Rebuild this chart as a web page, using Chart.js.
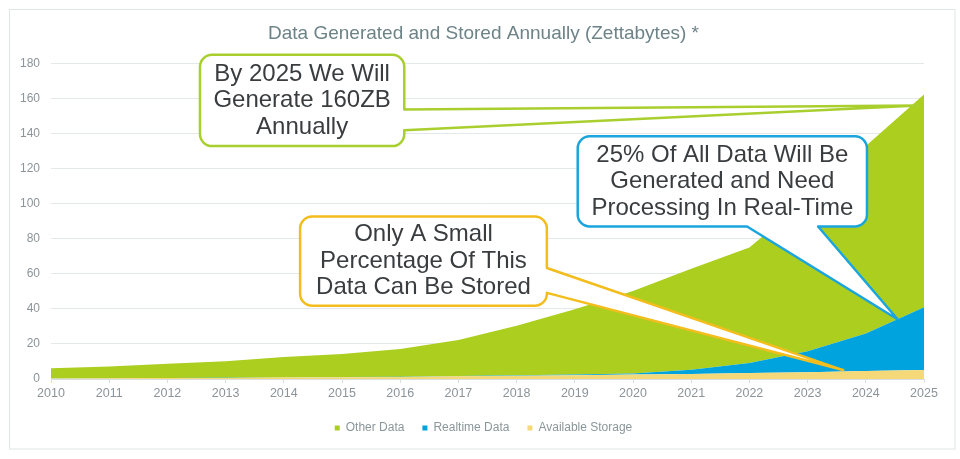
<!DOCTYPE html>
<html>
<head>
<meta charset="utf-8">
<script src="https://cdn.jsdelivr.net/npm/chart.js@4/dist/chart.umd.min.js"></script>
<style>
  html, body { margin: 0; padding: 0; background: #fff; }
  #output { display: block; }
</style>
</head>
<body>
<canvas id="output" width="960" height="459"></canvas>
<script>
// Years on the x axis
const years = ['2010', '2011', '2012', '2013', '2014', '2015', '2016', '2017',
               '2018', '2019', '2020', '2021', '2022', '2023', '2024', '2025'];

// Zettabytes per year (stacked: storage at the bottom, then realtime, then other)
const storageData  = [0.3, 0.4, 0.5, 0.6, 0.8, 1.0, 1.2, 1.5, 1.8, 2.1, 2.5, 2.9, 3.4, 3.9, 4.5, 5.2];
const realtimeData = [0.1, 0.1, 0.1, 0.1, 0.1, 0.1, 0.1, 0.2, 0.3, 0.5, 0.7, 2.4, 5.8, 11.9, 21.5, 35.8];
const otherData    = [5.8, 6.7, 8.1, 9.5, 11.6, 13.2, 15.9, 20.6, 28.3, 37.2, 47.0, 57.7, 65.9, 87.2, 107, 121.4];

// Callout texts
const greenNote  = ['By 2025 We Will', 'Generate 160ZB', 'Annually'];
const blueNote   = ['25% Of All Data Will Be', 'Generated and Need', 'Processing In Real-Time'];
const yellowNote = ['Only A Small', 'Percentage Of This', 'Data Can Be Stored'];

// callout boxes and pointer tips, in axis units (x = year index, y = ZB)
const callouts = [
  { lines: greenNote, color: '#A9CF2E',
    box: { x0: 2.56, x1: 6.07, y0: 185.1, y1: 133.0 },
    side: 'right', at: [153.9, 142.0], tip: [14.9, 156.2] },
  { lines: blueNote, color: '#1BA5DD',
    box: { x0: 9.05, x1: 14.02, y0: 138.6, y1: 87.1 },
    side: 'bottom', at: [11.96, 13.18], tip: [14.55, 34.0] },
  { lines: yellowNote, color: '#F2BD1D',
    box: { x0: 4.28, x1: 8.52, y0: 92.8, y1: 41.9 },
    side: 'right', at: [63.4, 49.2], tip: [13.61, 5.1] }
];

const frame = {
  id: 'frame',
  beforeDraw(chart) {
    const ctx = chart.ctx;
    ctx.save();
    ctx.fillStyle = '#ffffff';
    ctx.fillRect(0, 0, chart.width, chart.height);
    ctx.strokeStyle = '#dfe4e5';
    ctx.lineWidth = 1;
    ctx.strokeRect(9.5, 9.5, 945.5, 439.5);
    ctx.restore();
  }
};

function calloutPath(ctx, L, T, R, B, rad, c, sx, sy) {
  ctx.beginPath();
  ctx.moveTo(L + rad, T);
  ctx.lineTo(R - rad, T);
  ctx.arcTo(R, T, R, T + rad, rad);
  if (c.side === 'right') {
    ctx.lineTo(R, sy(c.at[0]));
    ctx.lineTo(sx(c.tip[0]), sy(c.tip[1]));
    ctx.lineTo(R, sy(c.at[1]));
  }
  ctx.lineTo(R, B - rad);
  ctx.arcTo(R, B, R - rad, B, rad);
  if (c.side === 'bottom') {
    ctx.lineTo(sx(c.at[1]), B);
    ctx.lineTo(sx(c.tip[0]), sy(c.tip[1]));
    ctx.lineTo(sx(c.at[0]), B);
  }
  ctx.lineTo(L + rad, B);
  ctx.arcTo(L, B, L, B - rad, rad);
  ctx.lineTo(L, T + rad);
  ctx.arcTo(L, T, L + rad, T, rad);
  ctx.closePath();
}

const calloutPlugin = {
  id: 'callouts',
  afterDatasetsDraw(chart) {
    const ctx = chart.ctx;
    const sx = v => chart.scales.x.getPixelForValue(v);
    const sy = v => chart.scales.y.getPixelForValue(v);
    callouts.forEach(c => {
      const L = sx(c.box.x0), R = sx(c.box.x1);
      const T = sy(c.box.y0), B = sy(c.box.y1);
      ctx.save();
      calloutPath(ctx, L, T, R, B, 12, c, sx, sy);
      ctx.fillStyle = '#ffffff';
      ctx.fill();
      ctx.lineWidth = 2.5;
      ctx.lineJoin = 'round';
      ctx.strokeStyle = c.color;
      ctx.stroke();
      ctx.fillStyle = '#3a3d3f';
      ctx.font = '24px "Liberation Sans", Arial, sans-serif';
      ctx.textAlign = 'center';
      ctx.textBaseline = 'middle';
      const lh = 26.5;
      const cx = (L + R) / 2, cy = (T + B) / 2;
      c.lines.forEach((t, k) => {
        ctx.fillText(t, cx, cy + (k - (c.lines.length - 1) / 2) * lh);
      });
      ctx.restore();
    });
  }
};

function createChart() {
  const ctx = document.getElementById('output').getContext('2d');

  new Chart(ctx, {
    type: 'line',
    data: {
      labels: years,
      datasets: [
        {
          label: 'Available Storage',
          data: storageData,
          backgroundColor: '#F5D978',
          borderColor: '#F5D978',
          borderWidth: 0,
          pointRadius: 0,
          fill: 'origin'
        },
        {
          label: 'Realtime Data',
          data: realtimeData,
          backgroundColor: '#00A3DE',
          borderColor: '#00A3DE',
          borderWidth: 0,
          pointRadius: 0,
          fill: '-1'
        },
        {
          label: 'Other Data',
          data: otherData,
          backgroundColor: '#ACCF1F',
          borderColor: '#ACCF1F',
          borderWidth: 0,
          pointRadius: 0,
          fill: '-1'
        }
      ]
    },
    options: {
      responsive: false,
      animation: false,
      layout: { padding: { left: 10, right: 3, top: 0, bottom: 15 } },
      elements: { line: { tension: 0 } },
      plugins: {
        tooltip: { enabled: false },
        title: {
          display: true,
          text: 'Data Generated and Stored Annually (Zettabytes) *',
          color: '#6d8387',
          font: { family: '"Liberation Sans", Arial, sans-serif', size: 19, weight: 'normal' },
          padding: { top: 22, bottom: 19 }
        },
        legend: {
          position: 'bottom',
          reverse: true,
          labels: {
            color: '#8b969a',
            font: { family: '"Liberation Sans", Arial, sans-serif', size: 12 },
            boxWidth: 5,
            boxHeight: 5,
            padding: 18
          }
        }
      },
      scales: {
        x: {
          grid: { drawOnChartArea: false, color: '#d9dfe1', tickLength: 4 },
          border: { display: true, color: '#d9dfe1' },
          ticks: {
            color: '#8c9499',
            font: { family: '"Liberation Sans", Arial, sans-serif', size: 12.5 },
            maxRotation: 0,
            autoSkip: false,
            padding: 3
          }
        },
        y: {
          stacked: true,
          min: 0,
          max: 180,
          afterFit: scale => { scale.width = 41; },
          grid: { color: '#e3e8ea', drawTicks: false },
          border: { display: false },
          ticks: {
            stepSize: 20,
            padding: 11,
            color: '#8c9499',
            font: { family: '"Liberation Sans", Arial, sans-serif', size: 12 }
          }
        },
        // empty right-hand spacer so the title and legend centre like the original
        y2: {
          position: 'right',
          min: 0,
          max: 180,
          afterFit: scale => { scale.width = 33; },
          grid: { display: false },
          border: { display: false },
          ticks: { display: false }
        }
      }
    },
    plugins: [frame, calloutPlugin]
  });
}

createChart();
</script>
</body>
</html>
